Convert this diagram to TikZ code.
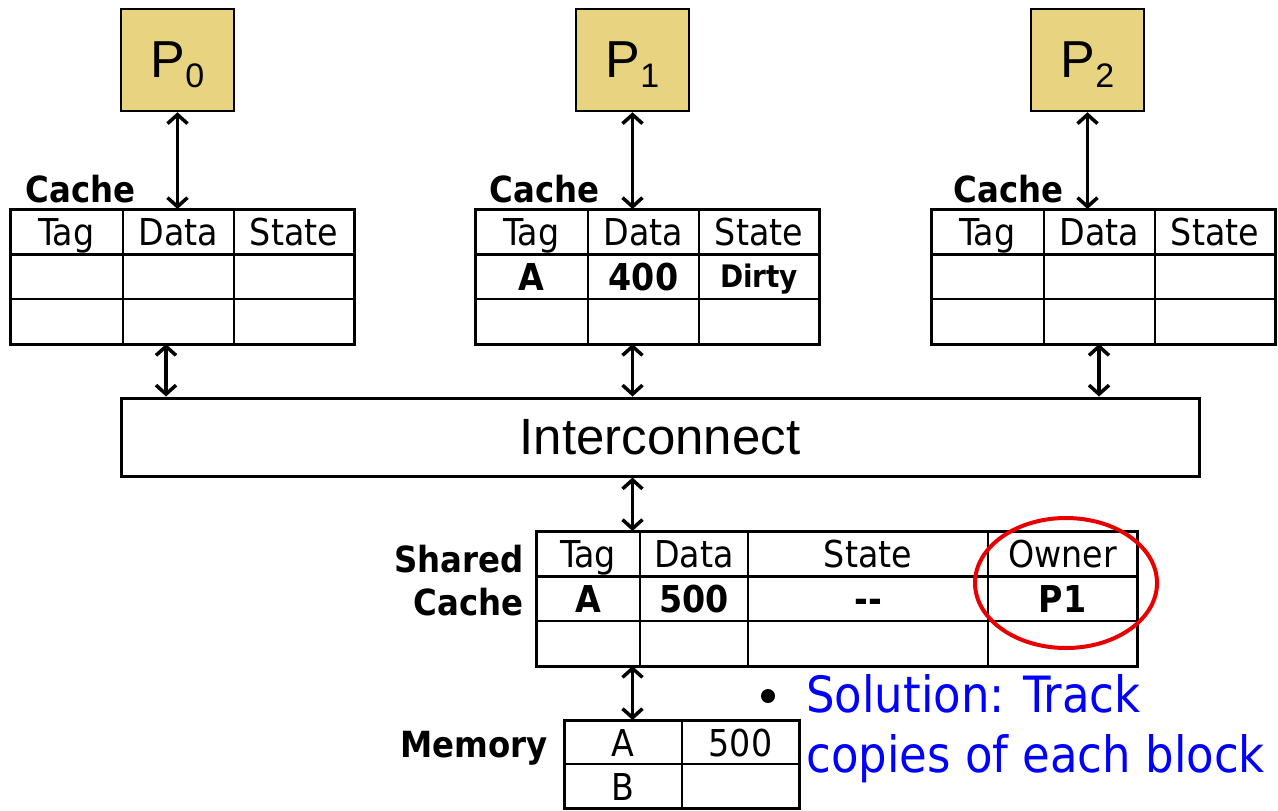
\documentclass[tikz,border=0pt]{standalone}
\usepackage{fontspec}
\usepackage{tikz}
\usepackage{xcolor}
\usetikzlibrary{positioning}
\usetikzlibrary{arrows.meta}
\newfontfamily\tahoma{DejaVu Sans Condensed}
\newfontfamily\arialf{Liberation Sans}
\definecolor{procfill}{RGB}{232, 212, 128}
\definecolor{ringred}{RGB}{232, 0, 0}
\definecolor{noteblue}{RGB}{0, 0, 255}
\tikzstyle{proc} = [
	draw=black,
	line width=1.25pt,
	fill=procfill,
	minimum width=56.5pt,
	minimum height=51pt,
	inner sep=0pt,
	font=\arialf\fontsize{26}{26}\selectfont
]
\tikzstyle{cell} = [
	draw=black,
	line width=0.75pt,
	inner sep=0pt,
	outer sep=0pt,
	minimum height=22.5pt,
	text height=14pt,
	text depth=0pt,
	font=\tahoma\fontsize{18.5}{18.5}\selectfont
]
\tikzstyle{tagcell} = [cell, minimum width=56.5pt]
\tikzstyle{datacell} = [cell, minimum width=55.5pt]
\tikzstyle{statecell} = [cell, minimum width=60pt]
\tikzstyle{strong} = [font=\tahoma\bfseries\fontsize{18.5}{18.5}\selectfont]
\tikzstyle{frame} = [
	draw=black,
	line width=1.5pt
]
\tikzstyle{tablename} = [
	inner sep=0pt,
	font=\tahoma\bfseries\fontsize{18}{21.5}\selectfont
]
\tikzstyle{link} = [
	line width=1.75pt,
	{Straight Barb[length=4.5pt,width=10pt]}-{Straight Barb[length=4.5pt,width=10pt]}
]
\tikzstyle{ring} = [
	draw=ringred,
	line width=2pt
]

\begin{document}
\begin{tikzpicture}[x=0.5pt, y=-0.5pt, node distance=0cm and 0cm]
	\useasboundingbox (0,0) rectangle (1278,810);

	% Processors
	\node[proc] (P0) at (177.5,60) {P\raisebox{-5pt}[0pt][0pt]{\fontsize{17}{17}\selectfont 0}};
	\node[proc] (P1) at (632.5,60) {P\raisebox{-5pt}[0pt][0pt]{\fontsize{17}{17}\selectfont 1}};
	\node[proc] (P2) at (1087.5,60) {P\raisebox{-5pt}[0pt][0pt]{\fontsize{17}{17}\selectfont 2}};

	% Cache of P0
	\node[tagcell, anchor=north west] (C0tag) at (10,209) {Tag};
	\node[datacell, right=of C0tag] (C0data) {Data};
	\node[statecell, right=of C0data] (C0state) {State};
	\node[tagcell, below=of C0tag] (C0tag1) {};
	\node[datacell, right=of C0tag1] (C0data1) {};
	\node[statecell, right=of C0data1] (C0state1) {};
	\node[tagcell, below=of C0tag1] (C0tag2) {};
	\node[datacell, right=of C0tag2] (C0data2) {};
	\node[statecell, right=of C0data2] (C0state2) {};
	\draw[frame] (C0tag.north west) rectangle (C0state2.south east);
	\draw[frame] (C0tag.south west) -- (C0state.south east);
	\node[tablename, anchor=base west] (C0name) at (25,202) {Cache};

	% Cache of P1
	\node[tagcell, anchor=north west] (C1tag) at (475,209) {Tag};
	\node[datacell, right=of C1tag] (C1data) {Data};
	\node[statecell, right=of C1data] (C1state) {State};
	\node[tagcell, strong, below=of C1tag] (C1tag1) {A};
	\node[datacell, strong, right=of C1tag1] (C1data1) {400};
	\node[statecell, right=of C1data1, text height=10.5pt, font=\tahoma\bfseries\fontsize{15.5}{15.5}\selectfont] (C1state1) {Dirty};
	\node[tagcell, below=of C1tag1] (C1tag2) {};
	\node[datacell, right=of C1tag2] (C1data2) {};
	\node[statecell, right=of C1data2] (C1state2) {};
	\draw[frame] (C1tag.north west) rectangle (C1state2.south east);
	\draw[frame] (C1tag.south west) -- (C1state.south east);
	\node[tablename, anchor=base west] (C1name) at (489,202) {Cache};

	% Cache of P2
	\node[tagcell, anchor=north west] (C2tag) at (931,209) {Tag};
	\node[datacell, right=of C2tag] (C2data) {Data};
	\node[statecell, right=of C2data] (C2state) {State};
	\node[tagcell, below=of C2tag] (C2tag1) {};
	\node[datacell, right=of C2tag1] (C2data1) {};
	\node[statecell, right=of C2data1] (C2state1) {};
	\node[tagcell, below=of C2tag1] (C2tag2) {};
	\node[datacell, right=of C2tag2] (C2data2) {};
	\node[statecell, right=of C2data2] (C2state2) {};
	\draw[frame] (C2tag.north west) rectangle (C2state2.south east);
	\draw[frame] (C2tag.south west) -- (C2state.south east);
	\node[tablename, anchor=base west] (C2name) at (953,202) {Cache};

	% Interconnect
	\node[frame, minimum width=539pt, minimum height=39pt, inner sep=0pt,
		font=\arialf\fontsize{25.5}{25.5}\selectfont] (Inter) at (660,437) {Interconnect};

	% Shared cache
	\node[cell, minimum width=52pt, anchor=north west] (Stag) at (536,531) {Tag};
	\node[cell, minimum width=54pt, right=of Stag] (Sdata) {Data};
	\node[cell, minimum width=120pt, right=of Sdata] (Sstate) {State};
	\node[cell, minimum width=74.5pt, right=of Sstate] (Sowner) {Owner};
	\node[cell, strong, minimum width=52pt, below=of Stag] (Stag1) {A};
	\node[cell, strong, minimum width=54pt, right=of Stag1] (Sdata1) {500};
	\node[cell, strong, minimum width=120pt, right=of Sdata1] (Sstate1) {-{}-};
	\node[cell, strong, minimum width=74.5pt, right=of Sstate1] (Sowner1) {P1};
	\node[cell, minimum width=52pt, below=of Stag1] (Stag2) {};
	\node[cell, minimum width=54pt, right=of Stag2] (Sdata2) {};
	\node[cell, minimum width=120pt, right=of Sdata2] (Sstate2) {};
	\node[cell, minimum width=74.5pt, right=of Sstate2] (Sowner2) {};
	\draw[frame] (Stag.north west) rectangle (Sowner2.south east);
	\draw[frame] (Stag.south west) -- (Sowner.south east);
	\node[tablename, align=right, anchor=east] (Sname) at (524,581) {Shared\\Cache};
	\draw[ring] ([xshift=1.75pt, yshift=-3.5pt]Sowner1.north) ellipse [x radius=45.5pt, y radius=32.5pt];

	% Memory
	\node[cell, minimum width=59pt, minimum height=22pt, anchor=north west] (MemA) at (564,720) {A};
	\node[cell, minimum width=58.5pt, minimum height=22pt, right=of MemA] (MemAval) {500};
	\node[cell, minimum width=59pt, minimum height=22pt, below=of MemA] (MemB) {B};
	\node[cell, minimum width=58.5pt, minimum height=22pt, right=of MemB] (MemBval) {};
	\draw[frame] (MemA.north west) rectangle (MemBval.south east);
	\node[tablename, anchor=base east] (Mname) at (548,757) {Memory};

	% Links
	\coordinate (bus0) at (166,0);
	\coordinate (bus2) at (1099,0);
	\draw[link] (P0.south) -- (P0.south |- C0tag.north);
	\draw[link] (P1.south) -- (P1.south |- C1tag.north);
	\draw[link] (P2.south) -- (P2.south |- C2tag.north);
	\draw[link] (C0data2.south -| bus0) -- (Inter.north -| bus0);
	\draw[link] (C1data2.south -| P1) -- (Inter.north -| P1);
	\draw[link] (C2data2.south -| bus2) -- (Inter.north -| bus2);
	\draw[link] (Inter.south -| P1) -- (Stag.north -| P1);
	\draw[link] (Stag2.south -| P1) -- (MemA.north -| P1);

	% Note
	\node[circle, fill=black, minimum size=7pt, inner sep=0pt] (dot) at (768,696) {};
	\node[anchor=north west, inner sep=0pt, align=left, text=noteblue,
		font=\tahoma\fontsize{25}{30}\selectfont] (note) at (806,674) {Solution: Track\\copies of each block};

\end{tikzpicture}
\end{document}
